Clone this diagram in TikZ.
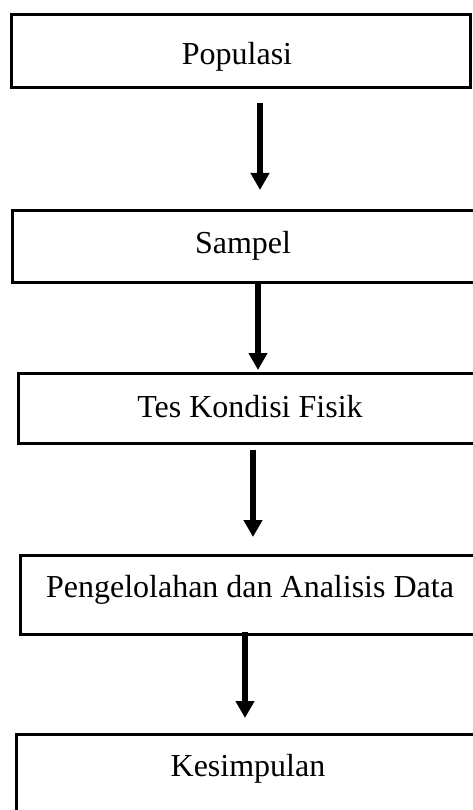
\documentclass[tikz,border=0pt]{standalone}
\usepackage{fontspec}
\setmainfont{Liberation Serif}
\usetikzlibrary{arrows.meta}
\begin{document}
\begin{tikzpicture}[x=1pt,y=-1pt,
  boxline/.style={draw=black,line width=3pt},
  lbl/.style={anchor=base,inner sep=0pt,font=\fontsize{32}{36}\selectfont},
  flow/.style={line width=6pt,-{Triangle[width=18pt,length=17pt]}}]
\useasboundingbox (0,0) rectangle (473,810);
\clip (0,0) rectangle (473,810);
\draw[boxline] (11.5,14.5) rectangle (470.5,87.5);
\draw[boxline] (12.5,210.5) rectangle (474,282.5);
\draw[boxline] (18.5,373.5) rectangle (490,443.5);
\draw[boxline] (20.5,555.5) rectangle (490,634.5);
\draw[boxline] (16.5,734.5) rectangle (490,830);
\node[lbl] (t1) at (237,65) {Populasi};
\node[lbl] (t2) at (243,253) {Sampel};
\node[lbl] (t3) at (250,417) {Tes Kondisi Fisik};
\node[lbl] (t4) at (250,597) {Pengelolahan dan Analisis Data};
\node[lbl] (t5) at (248,776) {Kesimpulan};
\coordinate (a1s) at (260,103); \coordinate (a1e) at (260,190);
\coordinate (a2s) at (258,284); \coordinate (a2e) at (258,370);
\coordinate (a3s) at (253,450); \coordinate (a3e) at (253,537);
\coordinate (a4s) at (245,632); \coordinate (a4e) at (245,718);
\draw[flow] (a1s) -- (a1e);
\draw[flow] (a2s) -- (a2e);
\draw[flow] (a3s) -- (a3e);
\draw[flow] (a4s) -- (a4e);
\end{tikzpicture}
\end{document}
